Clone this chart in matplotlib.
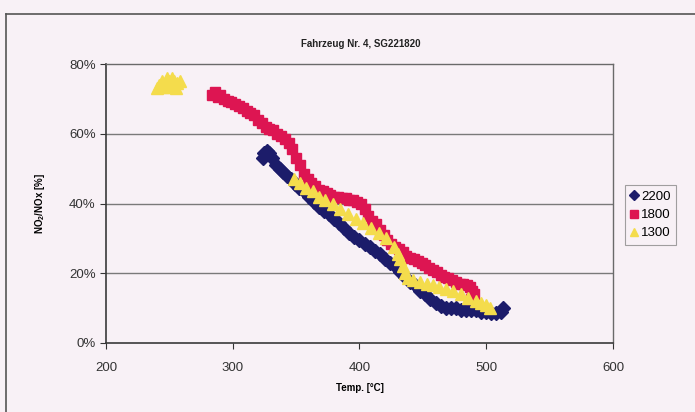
#   NO2/NOx ratio over exhaust temperature for vehicle no. 4, three engine speeds

import matplotlib
matplotlib.use('Agg')
from matplotlib import pyplot as plt
from matplotlib.lines import Line2D

plt.rcParams['font.family'] = ['Liberation Sans', 'DejaVu Sans']

#   values (temp in degC, ratio in %)
temp_2200 = [324, 325, 327, 329, 331, 334, 337, 340, 343, 346, 349, 352, 356, 360, 364, 368, 372,
             376, 380, 384, 388, 392, 396, 400, 404, 408, 412, 416, 420, 424, 428, 432, 436, 440,
             444, 448, 452, 456, 460, 464, 468, 472, 476, 480, 484, 488, 492, 496, 500, 504, 508,
             512, 513]
ratio_2200 = [53, 54.5, 55, 54.5, 53, 51, 50, 49, 48, 47, 45.5, 44.5, 43.5, 42, 40.5, 39, 38,
              37, 35.5, 34.5, 33, 31.5, 30.5, 29.5, 28.5, 27.5, 26.5, 25.5, 24, 23, 22, 20.5, 19,
              17.5, 16.5, 15, 14, 12.5, 11.5, 10.5, 10, 10, 10, 9.5, 9.5, 9.5, 9.5, 9, 9, 8.5, 8.5,
              9, 10]

temp_1800 = [284, 286, 288, 290, 293, 296, 299, 302, 305, 308, 311, 314, 317, 320, 323, 326, 329,
             332, 335, 338, 341, 344, 347, 350, 353, 356, 359, 362, 365, 368, 371, 374, 377, 380,
             383, 386, 389, 392, 395, 398, 401, 404, 407, 410, 413, 416, 419, 422, 425, 428, 431,
             434, 437, 440, 443, 446, 449, 452, 455, 458, 461, 464, 467, 470, 473, 476, 479, 482,
             485, 487, 489, 490, 488]
ratio_1800 = [71, 72, 70.5, 71, 70, 69.5, 69, 68.5, 68, 67.5, 66.5, 66, 65.5, 64, 63, 62, 61.5,
              61, 60, 59.5, 58.5, 57.5, 55.5, 53, 51, 48.5, 47, 46, 45, 44, 43.5, 43, 42.5, 42,
              42, 41.5, 41.5, 41, 41, 40.5, 40, 38.5, 36.5, 35, 34, 32.5, 31, 29.5, 28.5, 27.5, 27,
              26, 25, 24.5, 24, 23.5, 23, 22.5, 21.5, 21, 20.5, 19.5, 19, 18.5, 18, 17.5, 17, 17,
              16.5, 16, 15, 14, 12.5]

temp_1300 = [240, 242, 244, 246, 248, 250, 252, 254, 256, 258, 245, 250, 255,
             348, 353, 358, 363, 368, 373, 379, 385, 391, 397, 403, 409, 415, 421, 427, 430, 432,
             434, 436, 438, 442, 448, 453, 458, 463, 468, 474, 480, 486, 492, 496, 500, 503]
ratio_1300 = [73, 74, 75, 74, 76, 75, 76, 75, 74.5, 75, 73.5, 73.5, 73,
              47, 46, 44.5, 43.5, 42, 41, 40, 38.5, 37, 35.5, 34.5, 33, 31.5, 30, 27.5, 25.5, 24,
              22, 20, 18.5, 18, 17.5, 17, 16.5, 16, 15.5, 15, 14, 13, 12, 11.5, 11, 10]

y_ticks = [0, 20, 40, 60, 80]
x_ticks = [200, 300, 400, 500, 600]

bg = '#f8f1f6'
fig = plt.figure(figsize=(6.95, 4.12), dpi=100, facecolor=bg)
ax = fig.add_axes([0.1525, 0.1675, 0.7295, 0.677], facecolor=bg)

#   dense marker clouds, drawn in the same order as the original (2200 at the bottom)
ax.plot(temp_2200, ratio_2200, linestyle='none', marker='D', markersize=7.5,
        color='#1c1c6a', label='2200')
ax.plot(temp_1800, ratio_1800, linestyle='none', marker='s', markersize=7.5,
        color='#dd1552', label='1800')
ax.plot(temp_1300, ratio_1300, linestyle='none', marker='^', markersize=8.5,
        color='#f4dc4c', label='1300')

ax.set_xlim(200, 600)
ax.set_ylim(0, 80)
ax.set_xticks(x_ticks)
ax.set_yticks(y_ticks)
ax.set_yticklabels([str(v) + '%' for v in y_ticks])
ax.tick_params(labelsize=9.5, colors='#333333', length=4, width=0.8)
ax.tick_params(axis='x', pad=10)
for v in y_ticks[1:-1]:
    ax.axhline(v, color='#7a7a7a', linewidth=1, zorder=0)

for side in ['left', 'bottom']:
    ax.spines[side].set_color('#3a3a3a')
    ax.spines[side].set_linewidth(1.2)
for side in ['top', 'right']:
    ax.spines[side].set_color('#6a6a6a')
    ax.spines[side].set_linewidth(1)

ax.set_xlabel('Temp. [°C]', fontsize=7, fontweight='bold', labelpad=6)
ax.set_ylabel(r'NO$_\mathregular{2}$/NOx [%]', fontsize=7, fontweight='bold', labelpad=16)
fig.text(0.519, 0.893, 'Fahrzeug Nr. 4, SG221820', fontsize=7, fontweight='bold',
         ha='center', va='center', color='#222222')

leg = ax.legend(loc='center left', bbox_to_anchor=(0.890, 0.478), bbox_transform=fig.transFigure,
                fontsize=9.5, frameon=True, fancybox=False, handlelength=0.6, handletextpad=0.2,
                borderpad=0.4, labelspacing=0.45, markerscale=0.7)
leg.get_frame().set_edgecolor('#8a8a8a')
leg.get_frame().set_facecolor(bg)
leg.get_frame().set_linewidth(0.8)

#   outer chart frame of the scan (top and left edges)
fig.add_artist(Line2D([0.008, 1.0], [0.966, 0.966], color='#555555', linewidth=1.2))
fig.add_artist(Line2D([0.008, 0.008], [0.0, 0.966], color='#555555', linewidth=1.2))

plt.savefig('out.png', dpi=100, facecolor=bg)
